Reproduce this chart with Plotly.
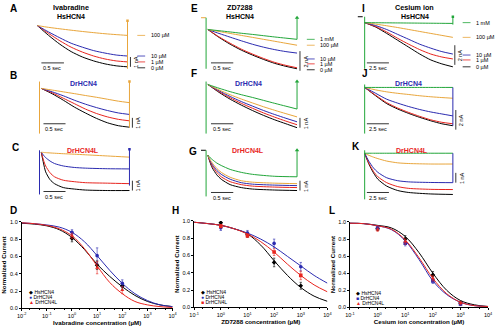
import plotly.graph_objects as go

# ---------------------------------------------------------------- data
# Time grids of the current recordings (s)
T_SLOW = [0, 0.25, 0.5, 0.75, 1.0, 1.25, 1.5, 1.75, 2.0]
T_FAST = [0, 0.05, 0.1, 0.2, 0.3, 0.5, 0.75, 1.0, 1.5, 2.0]
T_CS = [0, 1.25, 2.5, 3.75, 5.0, 6.25, 7.5, 8.75, 10.0]
T_CS_FAST = [0, 0.25, 0.5, 1.0, 1.5, 2.5, 3.75, 5.0, 7.5, 10.0]

# Ivabradine recordings (nA)
A_0 = [0, -1.0, -1.9, -2.65, -3.2, -3.6, -3.9, -4.1, -4.2]
A_1 = [0, -0.8, -1.55, -2.2, -2.7, -3.1, -3.4, -3.6, -3.7]
A_10 = [0, -0.65, -1.25, -1.8, -2.2, -2.55, -2.8, -3.0, -3.1]
A_100 = [0, -0.18, -0.33, -0.47, -0.6, -0.72, -0.83, -0.92, -1.0]
B_0 = [0, -0.55, -1.2, -1.9, -2.5, -3.05, -3.5, -3.8, -3.95]
B_1 = [0, -0.45, -1.0, -1.55, -2.1, -2.55, -2.9, -3.15, -3.3]
B_10 = [0, -0.35, -0.75, -1.2, -1.6, -1.95, -2.25, -2.5, -2.65]
B_100 = [0, -0.17, -0.35, -0.53, -0.72, -0.9, -1.1, -1.3, -1.45]
C_0 = [0, -1.1, -2.0, -2.8, -3.2, -3.6, -3.75, -3.85, -3.9, -3.9]
C_1 = [0, -0.8, -1.4, -2.1, -2.5, -2.85, -3.0, -3.1, -3.15, -3.2]
C_10 = [0, -0.3, -0.55, -0.9, -1.15, -1.4, -1.55, -1.62, -1.68, -1.7]
C_100 = [0, -0.02, -0.04, -0.07, -0.1, -0.15, -0.2, -0.26, -0.38, -0.5]

# ZD7288 recordings (nA)
E_0 = [0, -0.8, -1.5, -2.1, -2.6, -3.05, -3.45, -3.75, -4.0]
E_1 = [0, -0.75, -1.4, -2.0, -2.5, -2.95, -3.35, -3.65, -3.9]
E_10 = [0, -0.4, -0.78, -1.15, -1.5, -1.8, -2.05, -2.25, -2.4]
E_100 = [0, -0.2, -0.4, -0.6, -0.8, -1.0, -1.2, -1.4, -1.6]
E_1MM = [0, -0.12, -0.25, -0.38, -0.5, -0.63, -0.76, -0.88, -1.0]
F_0 = [0, -0.8, -1.5, -2.1, -2.65, -3.15, -3.6, -4.0, -4.4]
F_1 = [0, -0.72, -1.36, -1.92, -2.42, -2.9, -3.33, -3.73, -4.1]
F_10 = [0, -0.64, -1.22, -1.74, -2.2, -2.65, -3.06, -3.44, -3.8]
F_100 = [0, -0.55, -1.04, -1.48, -1.88, -2.27, -2.63, -2.97, -3.3]
F_1MM = [0, -0.38, -0.73, -1.04, -1.32, -1.62, -1.92, -2.21, -2.5]
G_0 = [0, -0.75, -1.3, -2.0, -2.45, -3.0, -3.3, -3.45, -3.55, -3.6]
G_1 = [0, -0.65, -1.1, -1.75, -2.2, -2.7, -3.0, -3.15, -3.25, -3.3]
G_10 = [0, -0.55, -0.95, -1.55, -1.95, -2.45, -2.8, -2.95, -3.05, -3.1]
G_100 = [0, -0.45, -0.8, -1.35, -1.75, -2.25, -2.6, -2.75, -2.85, -2.9]
G_1MM = [0, -0.25, -0.45, -0.8, -1.05, -1.45, -1.75, -1.95, -2.15, -2.2]

# Cesium ion recordings (nA)
I_0 = [0, -0.45, -1.1, -1.8, -2.5, -3.2, -3.8, -4.2, -4.5]
I_1 = [0, -0.4, -0.95, -1.6, -2.2, -2.75, -3.2, -3.5, -3.7]
I_10 = [0, -0.3, -0.7, -1.2, -1.7, -2.2, -2.6, -2.95, -3.2]
I_100 = [0, -0.15, -0.32, -0.5, -0.7, -0.9, -1.1, -1.3, -1.5]
I_1MM = [0, -0.01, -0.02, -0.03, -0.04, -0.05, -0.06, -0.07, -0.08]
J_0 = [0, -0.85, -1.65, -2.2, -2.65, -3.05, -3.4, -3.7, -3.9]
J_1 = [0, -0.8, -1.55, -2.1, -2.55, -2.95, -3.3, -3.55, -3.7]
J_10 = [0, -0.6, -1.2, -1.6, -1.95, -2.25, -2.5, -2.7, -2.9]
J_100 = [0, -0.25, -0.45, -0.6, -0.72, -0.85, -0.95, -1.03, -1.1]
J_1MM = [0, 0, 0, 0, 0, 0, 0, 0, 0]
K_0 = [0, -0.6, -1.15, -2.0, -2.65, -3.35, -3.8, -4.0, -4.15, -4.2]
K_1 = [0, -0.55, -1.05, -1.85, -2.4, -3.0, -3.4, -3.58, -3.68, -3.7]
K_10 = [0, -0.45, -0.85, -1.5, -1.95, -2.5, -2.8, -2.92, -2.98, -3.0]
K_100 = [0, -0.12, -0.22, -0.4, -0.55, -0.8, -0.98, -1.05, -1.1, -1.1]
K_1MM = [0, 0, 0, 0, 0, 0, 0, 0, 0, 0]

# Holding level before the step and capacitive / tail transients (nA)
HOLD_E = [1.2, 1.2]
HOLD_G = [0.5, 0.5]
HOLD_I = [0.6, 0.6]
A_STEP_OFF = [0.5, -4.4]
B_STEP_ON = [0.7, -4.6]
B_STEP_OFF = [0.7, -4.0]
C_STEP_ON = [0.2, -4.3]
C_STEP_OFF = [0.3, -3.4]
E_STEP_ON = [1.2, -4.0]
E_TAIL = [-1.0, 1.2]
F_STEP_ON = [0.3, -5.0]
F_TAIL = [-2.5, 0.3]
G_STEP_ON = [0.5, -4.2]
G_TAIL = [-2.2, 0.5]
I_STEP_ON = [0.6, -4.7]
I_STEP_OFF = [0.6, -0.2]
J_STEP_ON = [0.3, -4.7]
J_STEP_OFF = [0.0, -3.9]
K_STEP_ON = [0.3, -4.7]
K_STEP_OFF = [0.0, -3.0]

# Dose-response: measured points (normalized current) and fitted curves
D_CONC = [1, 10, 100]
D_HS = [0.81, 0.50, 0.26]
D_HS_ERR = [0.04, 0.05, 0.04]
D_DR = [0.88, 0.61, 0.29]
D_DR_ERR = [0.03, 0.09, 0.04]
D_DRL = [0.84, 0.47, 0.21]
D_DRL_ERR = [0.03, 0.07, 0.04]
D_FIT_LOG = [-2, -1.5, -1, -0.5, 0, 0.5, 1, 1.5, 2, 2.5, 3, 3.5, 4]
D_FIT_HS = [0.985, 0.975, 0.955, 0.91, 0.82, 0.68, 0.51, 0.37, 0.25, 0.15, 0.08, 0.04, 0.02]
D_FIT_DR = [0.99, 0.98, 0.965, 0.94, 0.88, 0.77, 0.61, 0.44, 0.29, 0.17, 0.09, 0.04, 0.02]
D_FIT_DRL = [0.99, 0.98, 0.96, 0.92, 0.84, 0.69, 0.49, 0.30, 0.17, 0.08, 0.04, 0.02, 0.01]

H_CONC = [1, 10, 100, 1000]
H_HS = [0.98, 0.84, 0.52, 0.25]
H_HS_ERR = [0.02, 0.03, 0.05, 0.04]
H_DR = [0.92, 0.86, 0.74, 0.47]
H_DR_ERR = [0.03, 0.03, 0.05, 0.05]
H_DRL = [0.94, 0.83, 0.64, 0.37]
H_DRL_ERR = [0.02, 0.02, 0.04, 0.05]
H_FIT_LOG = [-1, -0.5, 0, 0.5, 1, 1.5, 2, 2.5, 3, 3.5, 4]
H_FIT_HS = [0.985, 0.97, 0.95, 0.91, 0.85, 0.72, 0.54, 0.37, 0.23, 0.13, 0.07]
H_FIT_DR = [0.985, 0.97, 0.95, 0.91, 0.86, 0.79, 0.70, 0.59, 0.48, 0.37, 0.28]
H_FIT_DRL = [0.985, 0.97, 0.95, 0.91, 0.85, 0.76, 0.64, 0.50, 0.37, 0.26, 0.18]

L_CONC = [1, 10, 100, 1000]
L_HS = [0.92, 0.80, 0.38, 0.05]
L_HS_ERR = [0.02, 0.04, 0.04, 0.02]
L_DR = [0.93, 0.75, 0.31, 0.04]
L_DR_ERR = [0.02, 0.03, 0.03, 0.02]
L_DRL = [0.91, 0.77, 0.34, 0.05]
L_DRL_ERR = [0.02, 0.03, 0.03, 0.02]
L_FIT_LOG = [-1, -0.5, 0, 0.5, 1, 1.5, 2, 2.5, 3, 3.5, 4]
L_FIT_HS = [0.985, 0.98, 0.96, 0.93, 0.83, 0.64, 0.40, 0.20, 0.08, 0.03, 0.01]
L_FIT_DR = [0.985, 0.98, 0.955, 0.91, 0.78, 0.56, 0.31, 0.15, 0.06, 0.02, 0.01]
L_FIT_DRL = [0.985, 0.98, 0.955, 0.915, 0.79, 0.58, 0.34, 0.16, 0.06, 0.02, 0.01]

# ---------------------------------------------------------------- style
W, H = 500, 330
FONT = "Arial, 'Liberation Sans', sans-serif"
BLACK = "#000000"
RED = "#e8251f"
BLUE = "#2b2bb0"
ORANGE = "#e9a63c"
GREEN = "#22a63a"
SMALL = 5.5          # font size of the small annotations
SY = 10.0            # px per nA in the recording panels
I_LO, I_HI = -5.6, 1.6

fig = go.Figure()
lay = dict(width=W, height=H, margin=dict(l=0, r=0, t=0, b=0),
           paper_bgcolor="white", plot_bgcolor="rgba(0,0,0,0)",
           showlegend=False, font=dict(family=FONT, color="black"))
annos = []
shapes = []


def keys(i):
    s = "" if i == 1 else str(i)
    return "xaxis" + s, "yaxis" + s, "x" + s, "y" + s


class Panel:
    """A recording panel: time origin at pixel (ox, oy), sx px per second."""

    def __init__(self, i, ox, oy, sx, t_end):
        xk, yk, self.xr, self.yr = keys(i)
        self.ox, self.oy, self.sx, self.t_end = ox, oy, sx, t_end
        t_lo = -12 / sx
        t_hi = t_end + 18 / sx
        lay[xk] = dict(domain=[(ox + t_lo * sx) / W, (ox + t_hi * sx) / W],
                       range=[t_lo, t_hi], visible=False, fixedrange=True, anchor=self.yr)
        lay[yk] = dict(domain=[1 - (oy - I_LO * SY) / H, 1 - (oy - I_HI * SY) / H],
                       range=[I_LO, I_HI], visible=False, fixedrange=True, anchor=self.xr)

    # paper coordinates of a (time, current) position
    def px(self, t):
        return (self.ox + t * self.sx) / W

    def py(self, i):
        return 1 - (self.oy - i * SY) / H

    def curve(self, t, v, color, width=1.0):
        fig.add_trace(go.Scatter(x=t, y=v, xaxis=self.xr, yaxis=self.yr, mode="lines",
                                 line=dict(color=color, width=width, shape="spline", smoothing=0.7),
                                 hoverinfo="skip"))

    def hold(self, vals, color, dur_px=5):
        t0 = -(dur_px + 2) / self.sx
        fig.add_trace(go.Scatter(x=[t0, t0 + dur_px / self.sx], y=vals, xaxis=self.xr,
                                 yaxis=self.yr, mode="lines", hoverinfo="skip",
                                 line=dict(color=color, width=1.0)))

    def step(self, t, vals, color, head=None):
        fig.add_trace(go.Scatter(x=[t, t], y=vals, xaxis=self.xr, yaxis=self.yr, mode="lines",
                                 line=dict(color=color, width=1.0), hoverinfo="skip"))
        if head:
            fig.add_trace(go.Scatter(x=[t], y=[vals[0] if head == "square" else vals[-1]],
                                     xaxis=self.xr, yaxis=self.yr,
                                     mode="markers", hoverinfo="skip",
                                     marker=dict(symbol=head, size=2.5 if head == "square" else 4,
                                                 color=color)))

    def label(self, y, text, color):
        t0 = self.t_end + 10 / self.sx
        t1 = t0 + 10 / self.sx
        shapes.append(dict(type="line", xref=self.xr, yref=self.yr, x0=t0, x1=t1, y0=y, y1=y,
                           line=dict(color=color, width=0.8)))
        fig.add_trace(go.Scatter(x=[t1], y=[y], xaxis=self.xr, yaxis=self.yr, mode="markers",
                                 hoverinfo="skip", cliponaxis=False,
                                 marker=dict(symbol="triangle-right", size=3.5, color=color)))
        annos.append(dict(x=self.px(t1) + 1.5 / W, y=self.py(y), xref="paper", yref="paper",
                          text=text, showarrow=False, xanchor="left", yanchor="middle",
                          font=dict(size=SMALL)))

    def hbar(self, t0, t1, y, text):
        shapes.append(dict(type="line", xref=self.xr, yref=self.yr, x0=t0, x1=t1, y0=y, y1=y,
                           line=dict(color="black", width=0.8)))
        annos.append(dict(x=self.px(t0), y=self.py(y) - 0.5 / H, xref="paper", yref="paper",
                          text=text, showarrow=False, xanchor="left", yanchor="top",
                          font=dict(size=SMALL)))

    def vbar(self, t, y0, y1, text):
        shapes.append(dict(type="line", xref=self.xr, yref=self.yr, x0=t, x1=t, y0=y0, y1=y1,
                           line=dict(color="black", width=0.8)))
        annos.append(dict(x=self.px(t) + 0.5 / W, y=self.py((y0 + y1) / 2), xref="paper",
                          yref="paper", text=text, showarrow=False, textangle=-90,
                          xanchor="left", yanchor="middle", font=dict(size=SMALL)))


def text(px, py, s, size, color="black", anchor="center", bold=True):
    annos.append(dict(x=px / W, y=1 - py / H, xref="paper", yref="paper",
                      text=f"<b>{s}</b>" if bold else s, showarrow=False,
                      xanchor=anchor, yanchor="middle", font=dict(size=size, color=color)))


def recording(i, ox, oy, sx, t, series, t_end):
    p = Panel(i, ox, oy, sx, t_end)
    for vals, col in series:
        p.curve(t, vals, col)
    return p


# ---------------------------------------------------------------- Ivabradine
a = recording(1, 33, 23, 46, T_SLOW, [(A_0, BLACK), (A_1, RED), (A_10, BLUE), (A_100, ORANGE)], 2)
a.step(2.0, A_STEP_OFF, ORANGE, head="square")
for y, s, col in [(-1.0, "100 µM", ORANGE), (-3.1, "10 µM", BLUE), (-3.7, "1 µM", RED), (-4.3, "0 µM", BLACK)]:
    a.label(y, s, col)
a.hbar(0.09, 0.59, -3.8, "0.5 sec")
a.vbar(2.0 + 3 / 46, -3.2, -4.2, "1 nA")

b = recording(2, 37, 87, 45, T_SLOW, [(B_0, BLACK), (B_1, RED), (B_10, BLUE), (B_100, ORANGE)], 2)
b.step(-0.04, B_STEP_ON, ORANGE)
b.step(2.0, B_STEP_OFF, ORANGE, head="square")
b.hbar(0.05, 0.55, -3.6, "0.5 sec")
b.vbar(2.0 + 3 / 45, -3.0, -4.0, "1 nA")

c = recording(3, 37, 152, 45, T_FAST, [(C_0, BLACK), (C_1, RED), (C_10, BLUE), (C_100, ORANGE)], 2)
c.step(-0.04, C_STEP_ON, BLUE)
c.step(2.0, C_STEP_OFF, BLUE, head="square")
c.hbar(0.05, 0.55, -4.0, "0.5 sec")
c.vbar(2.0 + 3 / 45, -2.9, -3.9, "1 nA")

# ---------------------------------------------------------------- ZD7288
e = recording(4, 207, 27, 45.5, T_SLOW,
              [(E_0, BLACK), (E_1, RED), (E_10, BLUE), (E_100, ORANGE), (E_1MM, GREEN)], 2)
e.hold(HOLD_E, ORANGE)
e.step(-0.04, E_STEP_ON, GREEN)
e.step(2.0, E_TAIL, GREEN, head="triangle-up")
for y, s, col in [(-1.0, "1 mM", GREEN), (-1.6, "100 µM", ORANGE), (-3.0, "10 µM", BLUE),
                  (-3.5, "1 µM", RED), (-4.1, "0 µM", BLACK)]:
    e.label(y, s, col)
e.hbar(0.07, 0.57, -3.4, "0.5 sec")
e.vbar(2.0 + 3 / 45.5, -2.2, -4.2, "2 nA")

f = recording(5, 207, 83, 45.5, T_SLOW,
              [(F_0, BLACK), (F_1, RED), (F_10, BLUE), (F_100, ORANGE), (F_1MM, GREEN)], 2)
f.step(-0.04, F_STEP_ON, GREEN)
f.step(2.0, F_TAIL, GREEN, head="triangle-up")
f.hbar(0.07, 0.57, -4.0, "0.5 sec")
f.vbar(2.0 + 3 / 45.5, -3.4, -4.4, "1 nA")

g = recording(6, 207, 155, 45.5, T_FAST,
              [(G_0, BLACK), (G_1, RED), (G_10, BLUE), (G_100, ORANGE), (G_1MM, GREEN)], 2)
g.hold(HOLD_G, BLACK)
g.step(-0.04, G_STEP_ON, GREEN)
g.step(2.0, G_TAIL, GREEN, head="triangle-up")
g.hbar(0.07, 0.57, -3.8, "0.5 sec")
g.vbar(2.0 + 3 / 45.5, -2.6, -3.6, "1 nA")

# ---------------------------------------------------------------- Cesium ion
i_ = recording(7, 367, 20, 9, T_CS,
               [(I_0, BLACK), (I_1, RED), (I_10, BLUE), (I_100, ORANGE), (I_1MM, GREEN)], 10)
i_.hold(HOLD_I, BLACK)
i_.step(0.0, I_STEP_ON, GREEN)
i_.step(10.0, I_STEP_OFF, GREEN, head="square")
for y, s, col in [(0.0, "1 mM", GREEN), (-1.5, "100 µM", ORANGE), (-3.3, "10 µM", BLUE),
                  (-3.8, "1 µM", RED), (-4.5, "0 µM", BLACK)]:
    i_.label(y, s, col)
i_.hbar(0.25, 2.75, -4.1, "2.5 sec")
i_.vbar(10.0 + 2 / 9, -2.3, -4.3, "2 nA")

j = recording(8, 367, 86, 9, T_CS,
              [(J_0, BLACK), (J_1, RED), (J_10, BLUE), (J_100, ORANGE), (J_1MM, GREEN)], 10)
j.step(0.0, J_STEP_ON, GREEN)
j.step(10.0, J_STEP_OFF, BLUE)
j.hbar(0.25, 2.75, -3.7, "2.5 sec")
j.vbar(10.0 + 3 / 9, -2.3, -4.3, "2 nA")

k = recording(9, 367, 153, 9, T_CS_FAST,
              [(K_0, BLACK), (K_1, RED), (K_10, BLUE), (K_100, ORANGE), (K_1MM, GREEN)], 10)
k.step(0.0, K_STEP_ON, GREEN)
k.step(10.0, K_STEP_OFF, BLUE)
k.hbar(0.25, 2.75, -4.0, "2.5 sec")
k.vbar(10.0 + 3 / 9, -2.0, -3.0, "1 nA")


# ---------------------------------------------------------------- dose-response
def dose_panel(i, x0, x1, ytop, ybot, lo, hi, xtitle):
    xk, yk, xr, yr = keys(i)
    exps = list(range(lo, hi + 1))
    lay[xk] = dict(domain=[x0 / W, x1 / W], type="log", range=[lo, hi],
                   tickvals=[10.0 ** p for p in exps],
                   ticktext=[f"10<sup>{p}</sup>" for p in exps],
                   ticks="outside", ticklen=2, tickwidth=0.6, tickcolor="black",
                   showline=True, linecolor="black", linewidth=0.7,
                   showgrid=False, zeroline=False, tickfont=dict(size=SMALL),
                   minor=dict(ticks="outside", ticklen=1.2, tickwidth=0.4,
                              tickcolor="black", showgrid=False),
                   title=dict(text=f"<b>{xtitle}</b>", font=dict(size=6.2), standoff=1),
                   anchor=yr, fixedrange=True)
    lay[yk] = dict(domain=[1 - ybot / H, 1 - ytop / H], range=[0, 1.0],
                   tickvals=[0, 0.2, 0.4, 0.6, 0.8, 1.0], tickformat=".1f",
                   ticks="outside", ticklen=2, tickwidth=0.6, tickcolor="black",
                   showline=True, linecolor="black", linewidth=0.7,
                   showgrid=False, zeroline=False, tickfont=dict(size=SMALL),
                   title=dict(text="<b>Normalized Current</b>", font=dict(size=6.2), standoff=2),
                   anchor=xr, fixedrange=True)
    return xr, yr


def dose_series(ax, fit_log, fit, conc, vals, err, color, symbol):
    fig.add_trace(go.Scatter(x=[10.0 ** p for p in fit_log], y=fit, xaxis=ax[0], yaxis=ax[1],
                             mode="lines", line=dict(color=color, width=1, shape="spline"),
                             hoverinfo="skip"))
    fig.add_trace(go.Scatter(x=conc, y=vals, xaxis=ax[0], yaxis=ax[1], mode="markers",
                             marker=dict(color=color, size=3.6, symbol=symbol),
                             error_y=dict(type="data", array=err, color=color,
                                          thickness=0.6, width=1.2),
                             hoverinfo="skip"))


def legend_note(px, py, syms):
    for n, (sym, col, name) in enumerate(syms):
        annos.append(dict(x=px / W, y=1 - (py + n * 5.5) / H, xref="paper", yref="paper",
                          text=f"<span style='color:{col}'>{sym}</span> {name}",
                          showarrow=False, xanchor="left", yanchor="middle",
                          font=dict(size=5)))


d = dose_panel(10, 17, 171, 223, 311, -2, 4, "Ivabradine concentration (µM)")
dose_series(d, D_FIT_LOG, D_FIT_HS, D_CONC, D_HS, D_HS_ERR, BLACK, "diamond")
dose_series(d, D_FIT_LOG, D_FIT_DR, D_CONC, D_DR, D_DR_ERR, BLUE, "circle")
dose_series(d, D_FIT_LOG, D_FIT_DRL, D_CONC, D_DRL, D_DRL_ERR, RED, "triangle-up")
legend_note(22, 294, [("◆", BLACK, "HsHCN4"), ("●", BLUE, "DrHCN4"), ("▲", RED, "DrHCN4L")])

h = dose_panel(11, 193, 329, 222, 310, -1, 4, "ZD7288 concentration (µM)")
dose_series(h, H_FIT_LOG, H_FIT_HS, H_CONC, H_HS, H_HS_ERR, BLACK, "diamond")
dose_series(h, H_FIT_LOG, H_FIT_DR, H_CONC, H_DR, H_DR_ERR, BLUE, "circle")
dose_series(h, H_FIT_LOG, H_FIT_DRL, H_CONC, H_DRL, H_DRL_ERR, RED, "square")
legend_note(198, 294, [("◆", BLACK, "HsHCN4"), ("●", BLUE, "DrHCN4"), ("■", RED, "DrHCN4L")])

l_ = dose_panel(12, 352, 493, 223, 310, -1, 4, "Cesium ion concentration (µM)")
dose_series(l_, L_FIT_LOG, L_FIT_HS, L_CONC, L_HS, L_HS_ERR, BLACK, "diamond")
dose_series(l_, L_FIT_LOG, L_FIT_DR, L_CONC, L_DR, L_DR_ERR, BLUE, "square")
dose_series(l_, L_FIT_LOG, L_FIT_DRL, L_CONC, L_DRL, L_DRL_ERR, RED, "triangle-up")
legend_note(356, 295, [("◆", BLACK, "HsHCN4"), ("■", BLUE, "DrHCN4"), ("▲", RED, "DrHCN4L")])

# ---------------------------------------------------------------- titles and letters
text(67, 5, "Ivabradine", 7.2)
text(67, 14, "HsHCN4", 7)
text(240, 5, "ZD7288", 7.2)
text(240, 14, "HsHCN4", 7)
text(418, 5, "Cesium ion", 7.2)
text(418, 14, "HsHCN4", 7)
text(80, 82, "DrHCN4", 7, BLUE)
text(248, 82, "DrHCN4", 7, BLUE)
text(412, 82, "DrHCN4", 7, BLUE)
text(80, 150, "DrHCN4L", 7, RED)
text(248, 150, "DrHCN4L", 7, RED)
text(415, 150, "DrHCN4L", 7, RED)
for s, px, py in [("A", 3, 6), ("B", 3, 74), ("C", 5, 147), ("D", 3, 211),
                  ("E", 188, 6), ("F", 188, 72), ("G", 186, 151), ("H", 168, 211),
                  ("I", 362, 6), ("J", 362, 72), ("K", 352, 146), ("L", 329, 211)]:
    text(px, py, s, 10, anchor="left")

lay["annotations"] = annos
lay["shapes"] = shapes
fig.update_layout(**lay)
fig.write_html("out.html")
